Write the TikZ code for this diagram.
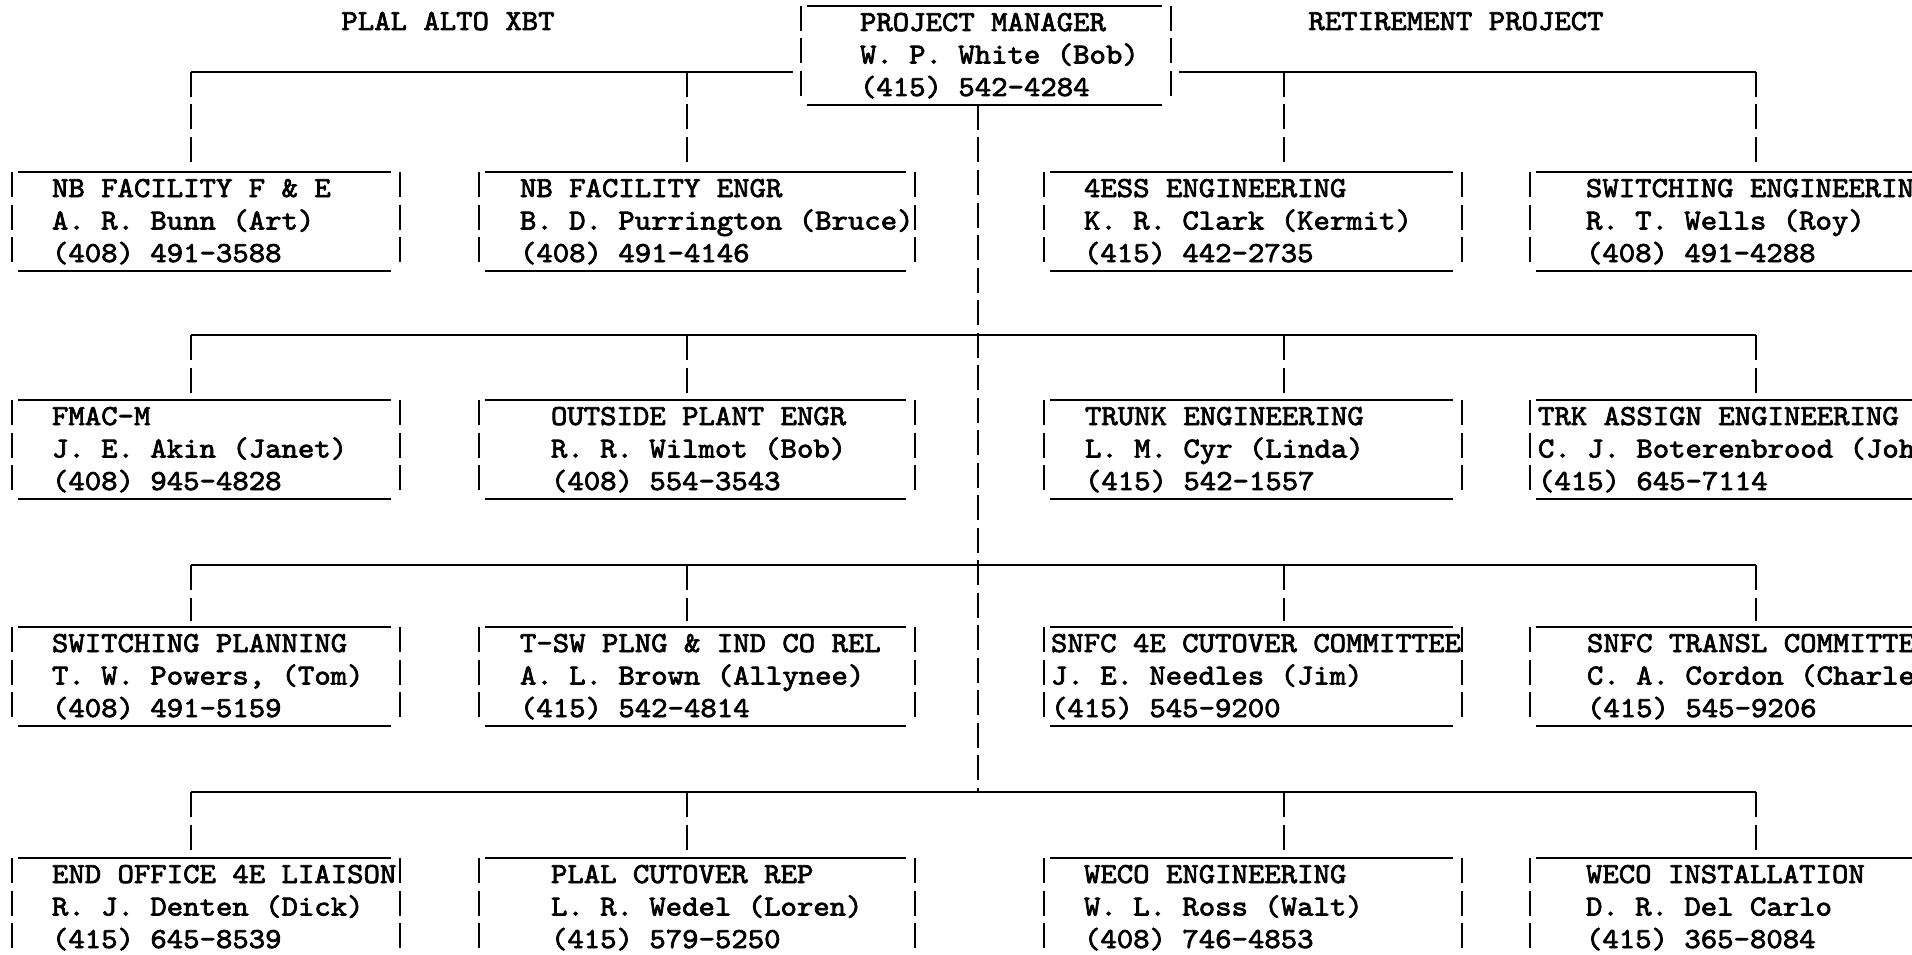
\documentclass[tikz,border=0pt]{standalone}
\usepackage{fontspec}
\newfontfamily\tw{lmmono10-regular.otf}[FakeStretch=1.077,FakeBold=2.5]
\usetikzlibrary{calc}
\tikzset{
  every node/.style={font={\fontsize{29pt}{32.5pt}\tw}, inner sep=0pt, outer sep=0pt},
  boxframe/.style={draw=none, minimum height=99, anchor=north west},
  hline/.style={line width=2.6pt},
  vbar/.style={line width=2.3pt, dash pattern=on 25pt off 7.5pt},
  txt/.style={anchor=base west},
  ttl/.style={anchor=base},
}
\newcommand\orgbox[4]{%
  \node[boxframe, minimum width=#3-#2] (#1) at (#2,#4) {};
  \draw[hline] ([xshift=6pt]#1.north west) -- ([xshift=-9pt]#1.north east);
  \draw[hline] ([xshift=6pt]#1.south west) -- ([xshift=-9pt]#1.south east);
  \draw[vbar] (#1.north west) -- ([yshift=5pt]#1.south west);
  \draw[vbar] (#1.north east) -- ([yshift=5pt]#1.south east);
}
\newcommand\orgtext[5]{%
  \node[txt] (#1-a) at ($(#1.north west)+(#2,25)$) {#3};
  \node[txt] (#1-b) at ($(#1.north west)+(#2,57.5)$) {#4};
  \node[txt] (#1-c) at ($(#1.north west)+(#2,90)$) {#5};
}
\begin{document}
\begin{tikzpicture}[x=1pt,y=-1pt]
\useasboundingbox (0,0) rectangle (1912,955);
\fill[white] (0,0) rectangle (1912,955);
\clip (0,0) rectangle (1912,955);

% titles
\node[ttl] (tleft) at (448,30) {PLAL ALTO XBT};
\node[ttl] (tright) at (1456,30) {RETIREMENT PROJECT};

% project manager
\orgbox{pm}{801}{1171}{6}
\orgtext{pm}{59}{PROJECT MANAGER}{W. P. White (Bob)}{(415) 542-4284}

% row 1
\orgbox{r1a}{12}{400}{172}
\orgtext{r1a}{40}{NB FACILITY F \& E}{A. R. Bunn (Art)}{(408) 491-3588}
\orgbox{r1b}{479}{915}{172}
\orgtext{r1b}{41}{NB FACILITY ENGR}{B. D. Purrington (Bruce)}{(408) 491-4146}
\orgbox{r1c}{1044}{1462}{172}
\orgtext{r1c}{40}{4ESS ENGINEERING}{K. R. Clark (Kermit)}{(415) 442-2735}
\orgbox{r1d}{1530}{2000}{172}
\orgtext{r1d}{56}{SWITCHING ENGINEERIN}{R. T. Wells (Roy)}{(408) 491-4288}

% row 2
\orgbox{r2a}{12}{400}{400}
\orgtext{r2a}{40}{FMAC-M}{J. E. Akin (Janet)}{(408) 945-4828}
\orgbox{r2b}{479}{915}{400}
\orgtext{r2b}{72}{OUTSIDE PLANT ENGR}{R. R. Wilmot (Bob)}{(408) 554-3543}
\orgbox{r2c}{1044}{1462}{400}
\orgtext{r2c}{41}{TRUNK ENGINEERING}{L. M. Cyr (Linda)}{(415) 542-1557}
\orgbox{r2d}{1530}{2000}{400}
\orgtext{r2d}{8}{TRK ASSIGN ENGINEERING}{C. J. Boterenbrood (Joh}{(415) 645-7114}

% row 3
\orgbox{r3a}{12}{400}{627}
\orgtext{r3a}{40}{SWITCHING PLANNING}{T. W. Powers, (Tom)}{(408) 491-5159}
\orgbox{r3b}{479}{915}{627}
\orgtext{r3b}{41}{T-SW PLNG \& IND CO REL}{A. L. Brown (Allynee)}{(415) 542-4814}
\orgbox{r3c}{1044}{1462}{627}
\orgtext{r3c}{7}{SNFC 4E CUTOVER COMMITTEE}{J. E. Needles (Jim)}{(415) 545-9200}
\orgbox{r3d}{1530}{2000}{627}
\orgtext{r3d}{57}{SNFC TRANSL COMMITTE}{C. A. Cordon (Charle}{(415) 545-9206}

% row 4
\orgbox{r4a}{12}{400}{858}
\orgtext{r4a}{40}{END OFFICE 4E LIAISON}{R. J. Denten (Dick)}{(415) 645-8539}
\orgbox{r4b}{479}{915}{858}
\orgtext{r4b}{72}{PLAL CUTOVER REP}{L. R. Wedel (Loren)}{(415) 579-5250}
\orgbox{r4c}{1044}{1462}{858}
\orgtext{r4c}{40}{WECO ENGINEERING}{W. L. Ross (Walt)}{(408) 746-4853}
\orgbox{r4d}{1530}{2000}{858}
\orgtext{r4d}{56}{WECO INSTALLATION}{D. R. Del Carlo}{(415) 365-8084}

% trunk
\coordinate (trunkend) at (978,792);
\draw[vbar] (pm.south -| trunkend) -- (trunkend);

% top bus (split by the manager box)
\coordinate (b1a) at (191,72);
\coordinate (b1b) at (687,72);
\coordinate (b1c) at (1284,72);
\coordinate (b1d) at (1756,72);
\draw[hline] (b1a) -- ([xshift=-8pt]b1a -| pm.west);
\draw[hline] ([xshift=8pt]b1d -| pm.east) -- (b1d);
\draw[vbar] (b1a) -- ([yshift=6pt]b1a |- r1a.north);
\draw[vbar] (b1b) -- ([yshift=6pt]b1b |- r1b.north);
\draw[vbar] (b1c) -- ([yshift=6pt]b1c |- r1c.north);
\draw[vbar] (b1d) -- ([yshift=6pt]b1d |- r1d.north);

% buses 2-4
\foreach \r/\y in {2/335,3/565,4/792}{
  \coordinate (b\r a) at (191,\y);
  \coordinate (b\r b) at (687,\y);
  \coordinate (b\r c) at (1284,\y);
  \coordinate (b\r d) at (1756,\y);
  \draw[hline] (b\r a) -- (b\r d);
  \draw[vbar] (b\r a) -- ([yshift=6pt]b\r a |- r\r a.north);
  \draw[vbar] (b\r b) -- ([yshift=6pt]b\r b |- r\r b.north);
  \draw[vbar] (b\r c) -- ([yshift=6pt]b\r c |- r\r c.north);
  \draw[vbar] (b\r d) -- ([yshift=6pt]b\r d |- r\r d.north);
}
\end{tikzpicture}
\end{document}
